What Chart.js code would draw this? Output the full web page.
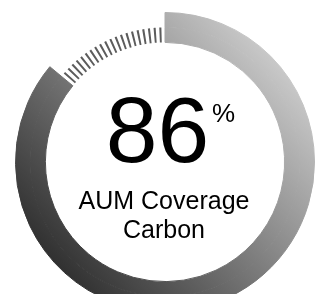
<!DOCTYPE html>
<html>
<head>
<meta charset="utf-8">
<script src="https://cdn.jsdelivr.net/npm/chart.js@4.4.1/dist/chart.umd.min.js"></script>
<style>
  html, body { margin: 0; padding: 0; background: #fff; overflow: hidden; }
  #gauge { display: block; }
</style>
</head>
<body>
<canvas id="gauge" width="330" height="324" style="width:330px;height:324px"></canvas>
<script>
// gauge values
var coverage = 86;          // percent covered
var remainder = 100 - coverage;
var centerValue = '86';
var centerUnit = '%';
var captionLines = ['AUM Coverage', 'Carbon'];

// hatch marks on the uncovered part
var tickCount = 20;
var tickSize = 0.25;        // percent per tick mark

var tickGap = (remainder - tickCount * tickSize) / (tickCount + 1);
var tickData = [coverage];
var tickColors = ['fill'];
for (var i = 0; i < tickCount; i++) {
  tickData.push(tickGap, tickSize);
  tickColors.push('rgba(0,0,0,0)', '#5c5c5c');
}
tickData.push(tickGap);
tickColors.push('rgba(0,0,0,0)');

var grad = null;
function fillGradient(chart) {
  var ca = chart.chartArea;
  if (!ca) return '#888';
  if (grad) return grad;
  var cx = (ca.left + ca.right) / 2, cy = (ca.top + ca.bottom) / 2;
  var dx = 0.746 * 155, dy = -0.665 * 155;
  grad = chart.ctx.createLinearGradient(cx - dx, cy - dy, cx + dx, cy + dy);
  grad.addColorStop(0, '#2e2e2e');
  grad.addColorStop(1, '#cbcbcb');
  return grad;
}

var centerText = {
  id: 'centerText',
  afterDraw: function(chart) {
    var c = chart.ctx;
    c.save();
    c.fillStyle = '#000';
    c.textBaseline = 'alphabetic';
    c.textAlign = 'center';
    c.font = '93px "Liberation Sans", Arial, sans-serif';
    c.fillText(centerValue, 157.5, 162);
    c.textAlign = 'left';
    c.font = '26px "Liberation Sans", Arial, sans-serif';
    c.fillText(centerUnit, 212, 122);
    c.textAlign = 'center';
    c.font = '25px "Liberation Sans", Arial, sans-serif';
    c.fillText(captionLines[0], 164, 209);
    c.fillText(captionLines[1], 164, 238);
    c.restore();
  }
};

new Chart(document.getElementById('gauge'), {
  type: 'doughnut',
  data: {
    datasets: [
      {
        data: [coverage, remainder],
        backgroundColor: function(ctx) {
          return ctx.dataIndex === 0 ? fillGradient(ctx.chart) : 'rgba(0,0,0,0)';
        },
        borderColor: function(ctx) {
          return ctx.dataIndex === 0 ? fillGradient(ctx.chart) : 'rgba(0,0,0,0)';
        },
        borderWidth: function(ctx) { return ctx.dataIndex === 0 ? 1 : 0; }
      },
      {
        data: tickData,
        backgroundColor: function(ctx) {
          var col = tickColors[ctx.dataIndex];
          return col === 'fill' ? fillGradient(ctx.chart) : col;
        },
        borderColor: function(ctx) {
          return ctx.dataIndex === 0 ? fillGradient(ctx.chart) : 'rgba(0,0,0,0)';
        },
        borderWidth: function(ctx) { return ctx.dataIndex === 0 ? 1 : 0; }
      }
    ]
  },
  options: {
    responsive: false,
    animation: false,
    events: [],
    cutout: '80%',
    layout: { padding: { left: 15, right: 15, top: 12, bottom: 12 } },
    plugins: {
      legend: { display: false },
      tooltip: { enabled: false }
    }
  },
  plugins: [centerText]
});
</script>
</body>
</html>
